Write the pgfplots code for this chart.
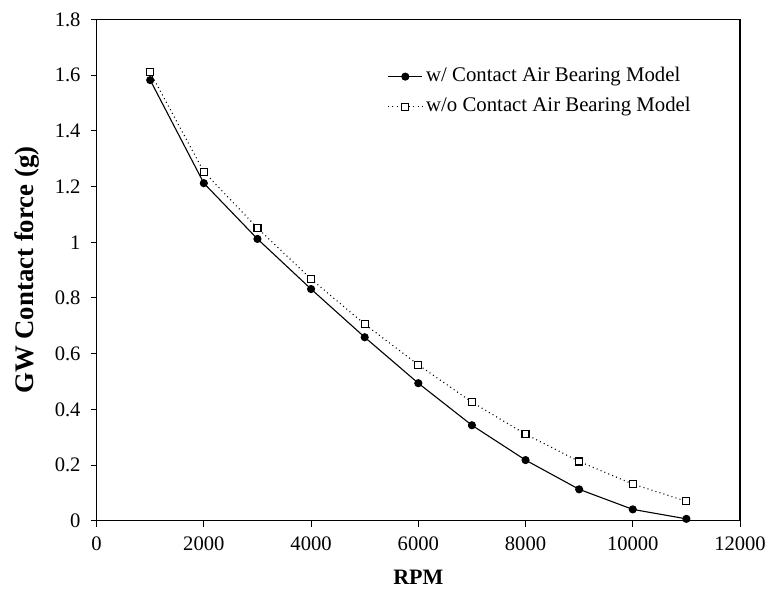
\documentclass[border=0pt]{standalone}
\usepackage{pgfplots}
\pgfplotsset{compat=1.18}
\usepackage{fontspec}
\setmainfont{Liberation Serif}

\begin{document}
\begin{tikzpicture}
% fixed page frame around the plot area
\useasboundingbox (-48.3pt,-35.1pt) rectangle (336.7pt,260.4pt);
\begin{axis}[
  at={(0pt,0pt)}, anchor=south west,
  scale only axis,
  width=321.7pt, height=250.7pt,
  xmin=0, xmax=12000, ymin=0, ymax=1.8,
  xtick={0,2000,...,12000},
  ytick={0,0.2,...,1.8},
  scaled x ticks=false,
  /pgf/number format/assume math mode=true,
  /pgf/number format/1000 sep={},
  tick label style={font=\fontsize{10.3}{12}\selectfont},
  xticklabel style={yshift=-1.5pt},
  yticklabel style={xshift=-1.5pt},
  tick align=outside,
  xtick pos=bottom, ytick pos=left,
  major tick length=3pt,
  axis line style={line width=0.6pt},
  tick style={line width=0.5pt, black},
  xlabel={\textbf{RPM}},
  ylabel={\textbf{GW Contact force (g)}},
  xlabel style={font=\fontsize{11}{13}\selectfont, yshift=-3pt},
  ylabel style={font=\fontsize{13.4}{15}\selectfont, yshift=1pt},
  legend style={at={(0.4425,0.915)}, anchor=north west, draw=none, fill=none,
    font=\fontsize{10.4}{12}\selectfont, row sep=4.8pt,
    nodes={inner xsep=1.6pt, inner ysep=0.8pt, text height=6.8pt, text depth=1.8pt}},
  legend cell align=left,
]
\addplot[black, line width=0.55pt, mark=*, mark size=1.75pt]
  coordinates {
  (1000,1.582) (2000,1.212) (3000,1.012) (4000,0.832) (5000,0.659)
  (6000,0.494) (7000,0.343) (8000,0.218) (9000,0.113) (10000,0.041)
  (11000,0.007)};
\addlegendentry{w/ Contact Air Bearing Model}
\addplot[black, line width=0.55pt, dash pattern=on 0.5pt off 1.6pt,
  mark=square*, mark size=1.75pt,
  mark options={solid, fill=white, line width=0.6pt}]
  coordinates {
  (1000,1.610) (2000,1.253) (3000,1.051) (4000,0.868) (5000,0.706)
  (6000,0.560) (7000,0.426) (8000,0.311) (9000,0.213) (10000,0.132)
  (11000,0.070)};
\addlegendentry{w/o Contact Air Bearing Model}
\end{axis}
\end{tikzpicture}
\end{document}
